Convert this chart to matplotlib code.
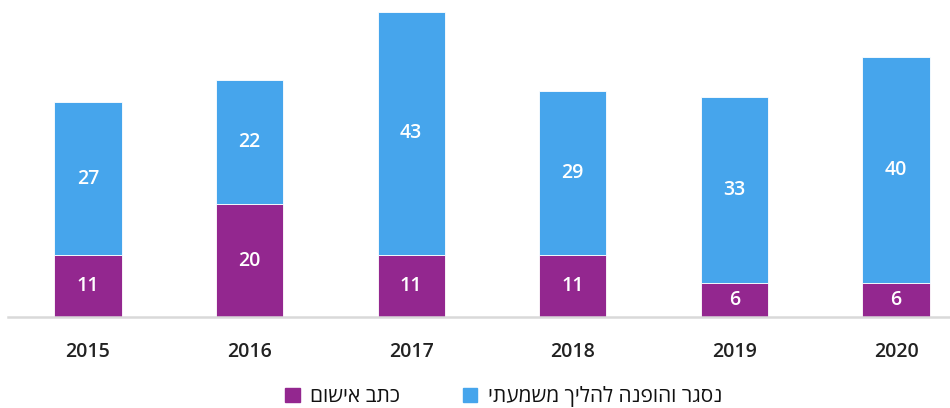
import matplotlib
matplotlib.use('Agg')
import matplotlib.pyplot as plt
from matplotlib.patches import Patch
import numpy as np

# Data
years = ['2015', '2016', '2017', '2018', '2019', '2020']
indictment = [11, 20, 11, 11, 6, 6]
disciplinary = [27, 22, 43, 29, 33, 40]
label_indictment = 'כתב אישום'
label_disciplinary = 'נסגר והופנה להליך משמעתי'

PURPLE = '#93278F'
BLUE = '#46A5EC'
FONT = ['Open Sans', 'DejaVu Sans']

plt.rcParams['font.family'] = FONT


def rtl(s):
    # matplotlib has no bidi support, reverse Hebrew for display
    return s[::-1]


fig = plt.figure(figsize=(9.5, 4.08), dpi=100)
ax = fig.add_axes([8 / 950, 0.223, 942 / 950, 0.777])

x = np.arange(len(years))
w = 0.415
ax.bar(x, indictment, w, color=PURPLE, edgecolor='white', linewidth=0.6)
ax.bar(x, disciplinary, w, bottom=indictment, color=BLUE,
       edgecolor='white', linewidth=0.6)

for i in range(len(years)):
    ax.text(x[i], indictment[i] / 2, str(indictment[i]), ha='center', va='center',
            color='white', fontsize=14, fontweight='semibold')
    ax.text(x[i], indictment[i] + disciplinary[i] / 2, str(disciplinary[i]),
            ha='center', va='center', color='white', fontsize=14,
            fontweight='semibold')

ax.set_xlim(-0.495, 5.334)
ax.set_ylim(0, 56.1)
ax.set_xticks(x)
ax.set_xticklabels(years, fontsize=14, color='#222222', fontweight='semibold')
ax.tick_params(axis='x', length=0, pad=18)
ax.set_yticks([])
for side in ['top', 'right', 'left']:
    ax.spines[side].set_visible(False)
ax.spines['bottom'].set_color('#d9d9d9')
ax.spines['bottom'].set_linewidth(1.8)

handles = [Patch(color=PURPLE), Patch(color=BLUE)]
labels = [rtl(label_indictment), rtl(label_disciplinary)]
leg = fig.legend(handles, labels, loc='center', bbox_to_anchor=(0.53, 0.027), ncol=2,
                 frameon=False, fontsize=15, handlelength=0.7, handleheight=0.7,
                 handletextpad=0.5, columnspacing=3.0)
for t in leg.get_texts():
    t.set_color('#111111')

fig.savefig('out.png', dpi=100)
